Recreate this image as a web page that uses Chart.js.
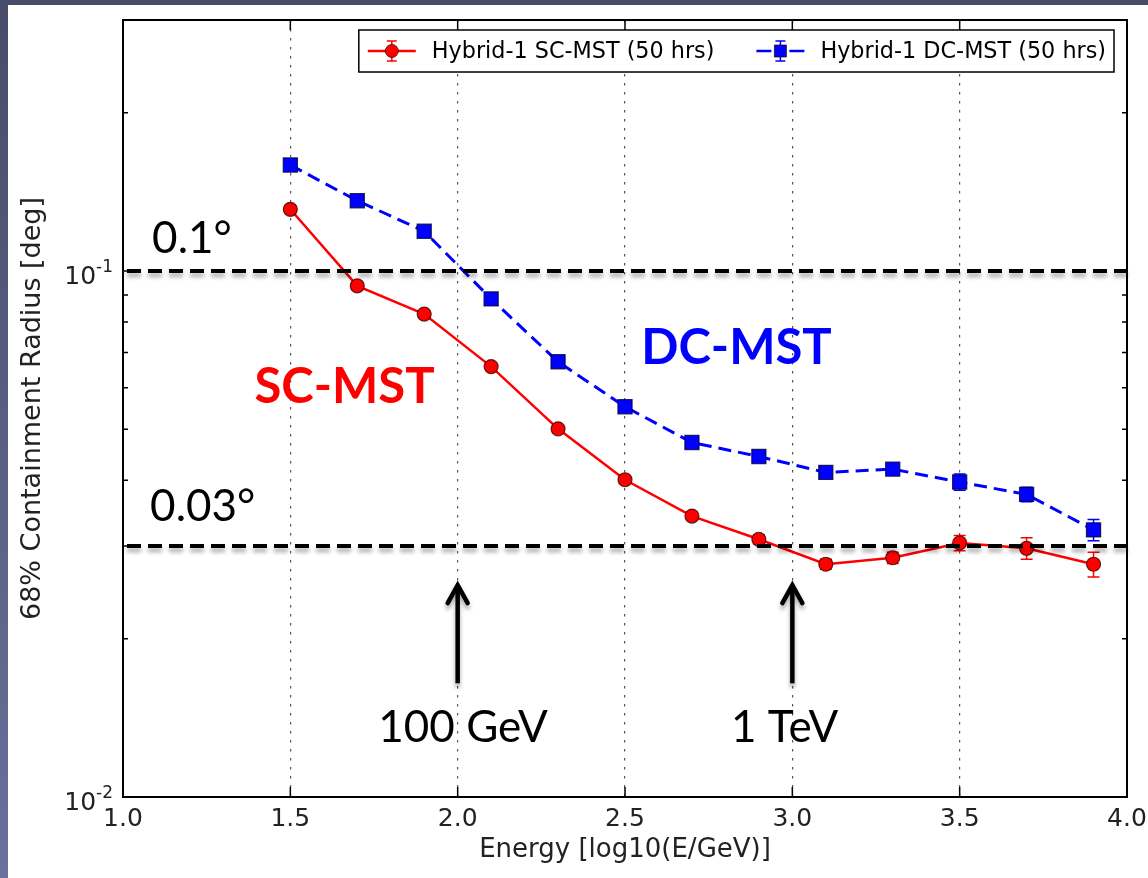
<!DOCTYPE html>
<html>
<head>
<meta charset="utf-8">
<title>68% Containment Radius</title>
<script src="https://cdn.jsdelivr.net/npm/chart.js@4.4.1/dist/chart.umd.min.js"></script>
<style>
    html, body { margin: 0; padding: 0; }
    body {
        width: 1148px; height: 878px; overflow: hidden; position: relative;
        background: linear-gradient(to bottom, #474c69 0%, #6b709c 100%);
    }
    #panel { position: absolute; left: 8px; top: 5px; right: 0; bottom: 0; background: #ffffff; }
    #wrap { position: absolute; left: 0; top: 0; width: 1148px; height: 878px; }
</style>
</head>
<body>
<div id="panel"></div>
<div id="wrap"><canvas id="psfChart" width="1148" height="878"></canvas></div>
<script>
// log10(E/GeV) bins
var energy = [1.5, 1.7, 1.9, 2.1, 2.3, 2.5, 2.7, 2.9, 3.1, 3.3, 3.5, 3.7, 3.9];

// 68% containment radius [deg] and errors
var radiusSC = [0.131, 0.0937, 0.0828, 0.0658, 0.0501, 0.0401, 0.0342, 0.0309, 0.0277, 0.0285, 0.0304, 0.0297, 0.0277];
var errorSC = [0.002, 0.0015, 0.0012, 0.001, 0.0008, 0.0006, 0.0006, 0.0006, 0.0006, 0.0007, 0.001, 0.0014, 0.0015];
var radiusDC = [0.159, 0.136, 0.119, 0.0885, 0.0672, 0.0552, 0.0472, 0.0444, 0.0414, 0.0420, 0.0397, 0.0376, 0.0322];
var errorDC = [0.0025, 0.002, 0.0018, 0.0014, 0.001, 0.0009, 0.0008, 0.0008, 0.0008, 0.0009, 0.0014, 0.0012, 0.0015];

var seriesNames = ['Hybrid-1 SC-MST (50 hrs)', 'Hybrid-1 DC-MST (50 hrs)'];

var ticksX = [1.0, 1.5, 2.0, 2.5, 3.0, 3.5, 4.0];
var ticksY = [0.01, 0.1];
var exponentsY = ['-2', '-1'];
var minorY = [0.02, 0.03, 0.04, 0.05, 0.06, 0.07, 0.08, 0.09, 0.2, 0.3];

// requirement lines and markers for 100 GeV / 1 TeV
var refLines = [0.1, 0.03];
var arrowsX = [2.0, 3.0];
var arrowFromY = 0.01645;
var arrowToY = 0.0255;

var notes = [
    { text: '0.1\u00B0', x: 1.087, y: 0.1082, align: 'left', color: '#000000', bold: false },
    { text: '0.03\u00B0', x: 1.081, y: 0.0335, align: 'left', color: '#000000', bold: false },
    { text: 'SC-MST', x: 1.662, y: 0.0562, align: 'center', color: '#ff0000', bold: true },
    { text: 'DC-MST', x: 2.833, y: 0.0666, align: 'center', color: '#0000ff', bold: true },
    { text: '100 GeV', x: 2.016, y: 0.01272, align: 'center', color: '#000000', bold: false },
    { text: '1 TeV', x: 2.977, y: 0.01272, align: 'center', color: '#000000', bold: false }
];

function toPoints(xs, ys) {
    return xs.map(function (x, i) { return { x: x, y: ys[i] }; });
}

var errorBarPlugin = {
    id: 'errorBars',
    beforeDatasetsDraw: function (chart) {
        var ctx = chart.ctx;
        var ys = chart.scales.y;
        chart.data.datasets.forEach(function (ds, i) {
            var meta = chart.getDatasetMeta(i);
            ctx.save();
            ctx.strokeStyle = ds.borderColor;
            ctx.lineWidth = 1.5;
            meta.data.forEach(function (pt, j) {
                var v = ds.data[j].y, e = ds.errors[j];
                var y1 = ys.getPixelForValue(v + e);
                var y2 = ys.getPixelForValue(v - e);
                ctx.beginPath();
                ctx.moveTo(pt.x, y1); ctx.lineTo(pt.x, y2);
                ctx.moveTo(pt.x - 6, y1); ctx.lineTo(pt.x + 6, y1);
                ctx.moveTo(pt.x - 6, y2); ctx.lineTo(pt.x + 6, y2);
                ctx.stroke();
            });
            ctx.restore();
        });
    }
};

function drawHandle(ctx, x, y, color, square, dashed) {
    ctx.save();
    ctx.strokeStyle = color;
    ctx.lineWidth = 2.5;
    ctx.beginPath();
    if (dashed) {
        ctx.moveTo(x, y); ctx.lineTo(x + 15, y);
        ctx.moveTo(x + 33, y); ctx.lineTo(x + 48, y);
    } else {
        ctx.moveTo(x, y); ctx.lineTo(x + 48, y);
    }
    ctx.stroke();
    var cx = x + 24;
    ctx.lineWidth = 1.5;
    ctx.beginPath();
    ctx.moveTo(cx, y - 10); ctx.lineTo(cx, y + 10);
    ctx.moveTo(cx - 5, y - 10); ctx.lineTo(cx + 5, y - 10);
    ctx.moveTo(cx - 5, y + 10); ctx.lineTo(cx + 5, y + 10);
    ctx.stroke();
    ctx.fillStyle = color;
    ctx.strokeStyle = 'rgba(40,0,0,0.7)';
    ctx.lineWidth = 1;
    ctx.beginPath();
    if (square) {
        ctx.rect(cx - 6, y - 6, 12, 12);
    } else {
        ctx.arc(cx, y, 6.5, 0, Math.PI * 2);
    }
    ctx.fill();
    ctx.stroke();
    ctx.restore();
}

var overlayPlugin = {
    id: 'overlay',
    afterDraw: function (chart) {
        var ctx = chart.ctx;
        var a = chart.chartArea;
        var xs = chart.scales.x, ys = chart.scales.y;

        // inward tick marks
        ctx.save();
        ctx.strokeStyle = '#000000';
        ctx.lineWidth = 1.5;
        ctx.beginPath();
        ticksX.forEach(function (t) {
            var px = xs.getPixelForValue(t);
            ctx.moveTo(px, a.bottom); ctx.lineTo(px, a.bottom - 10);
            ctx.moveTo(px, a.top); ctx.lineTo(px, a.top + 10);
        });
        ticksY.forEach(function (t) {
            var py = ys.getPixelForValue(t);
            ctx.moveTo(a.left, py); ctx.lineTo(a.left + 10, py);
            ctx.moveTo(a.right, py); ctx.lineTo(a.right - 10, py);
        });
        minorY.forEach(function (t) {
            var py = ys.getPixelForValue(t);
            ctx.moveTo(a.left, py); ctx.lineTo(a.left + 5, py);
            ctx.moveTo(a.right, py); ctx.lineTo(a.right - 5, py);
        });
        ctx.stroke();

        // axes frame
        ctx.lineWidth = 2;
        ctx.strokeRect(a.left, a.top, a.right - a.left, a.bottom - a.top);

        // tick labels
        ctx.fillStyle = '#222222';
        ctx.font = '25px "DejaVu Sans"';
        ctx.textAlign = 'center';
        ctx.textBaseline = 'alphabetic';
        ticksX.forEach(function (t) {
            ctx.fillText(t.toFixed(1), xs.getPixelForValue(t), a.bottom + 29);
        });
        ticksY.forEach(function (t, i) {
            var py = ys.getPixelForValue(t);
            var right = a.left - 10;
            ctx.font = '17px "DejaVu Sans"';
            ctx.textAlign = 'right';
            var supW = ctx.measureText(exponentsY[i]).width;
            ctx.fillText(exponentsY[i], right, py + 1);
            ctx.font = '25px "DejaVu Sans"';
            ctx.fillText('10', right - supW, py + 13);
        });
        ctx.restore();

        // legend box
        ctx.save();
        ctx.font = '22.3px "DejaVu Sans"';
        var w1 = ctx.measureText(seriesNames[0]).width;
        var w2 = ctx.measureText(seriesNames[1]).width;
        var boxW = 9 + 48 + 16 + w1 + 42 + 48 + 16 + w2 + 8;
        var boxR = a.right - 13;
        var boxL = boxR - boxW;
        var boxT = a.top + 10;
        var boxH = 42;
        ctx.fillStyle = '#ffffff';
        ctx.fillRect(boxL, boxT, boxW, boxH);
        ctx.strokeStyle = '#000000';
        ctx.lineWidth = 1.5;
        ctx.strokeRect(boxL, boxT, boxW, boxH);
        var cy = boxT + boxH / 2;
        var hx = boxL + 9;
        drawHandle(ctx, hx, cy, '#ff0000', false, false);
        ctx.fillStyle = '#000000';
        ctx.textBaseline = 'middle';
        ctx.fillText(seriesNames[0], hx + 64, cy + 1);
        hx = hx + 64 + w1 + 42;
        drawHandle(ctx, hx, cy, '#0000ff', true, true);
        ctx.fillStyle = '#000000';
        ctx.fillText(seriesNames[1], hx + 64, cy + 1);
        ctx.restore();

        // dashed requirement lines with a soft shadow
        ctx.save();
        ctx.shadowColor = 'rgba(0,0,0,0.35)';
        ctx.shadowBlur = 4;
        ctx.shadowOffsetY = 4;
        ctx.strokeStyle = '#000000';
        ctx.lineWidth = 4;
        ctx.setLineDash([14, 7]);
        refLines.forEach(function (v) {
            var py = ys.getPixelForValue(v);
            ctx.beginPath();
            ctx.moveTo(a.left + 4, py);
            ctx.lineTo(a.right, py);
            ctx.stroke();
        });
        ctx.setLineDash([]);

        // arrows
        ctx.lineWidth = 4.5;
        arrowsX.forEach(function (x) {
            var px = xs.getPixelForValue(x);
            var y0 = ys.getPixelForValue(arrowFromY);
            var y1 = ys.getPixelForValue(arrowToY);
            ctx.lineCap = 'butt';
            ctx.beginPath();
            ctx.moveTo(px, y0); ctx.lineTo(px, y1 + 2);
            ctx.stroke();
            ctx.lineCap = 'round';
            ctx.lineJoin = 'miter';
            ctx.beginPath();
            ctx.moveTo(px - 10, y1 + 20);
            ctx.lineTo(px, y1 + 2);
            ctx.lineTo(px + 10, y1 + 20);
            ctx.stroke();
        });
        ctx.restore();

        // text annotations
        ctx.save();
        ctx.textBaseline = 'alphabetic';
        notes.forEach(function (n) {
            ctx.font = n.bold ? 'bold 49px Lato' : '44px Lato';
            ctx.fillStyle = n.color;
            ctx.textAlign = n.align;
            ctx.fillText(n.text, xs.getPixelForValue(n.x), ys.getPixelForValue(n.y));
        });
        ctx.restore();
    }
};

var ctx = document.getElementById('psfChart').getContext('2d');
var psfChart = new Chart(ctx, {
    type: 'line',
    data: {
        datasets: [{
            label: seriesNames[0],
            data: toPoints(energy, radiusSC),
            errors: errorSC,
            borderColor: '#ff0000',
            borderWidth: 2.5,
            pointStyle: 'circle',
            pointRadius: 7,
            pointBackgroundColor: '#ff0000',
            pointBorderColor: 'rgba(60,0,0,0.8)',
            pointBorderWidth: 1.2,
            fill: false,
            tension: 0
        }, {
            label: seriesNames[1],
            data: toPoints(energy, radiusDC),
            errors: errorDC,
            borderColor: '#0000ff',
            borderWidth: 3,
            borderDash: [13, 7],
            pointStyle: 'rect',
            pointRadius: 10,
            pointBackgroundColor: '#0000ff',
            pointBorderColor: 'rgba(0,0,60,0.8)',
            pointBorderWidth: 1.2,
            fill: false,
            tension: 0
        }]
    },
    options: {
        responsive: false,
        animation: false,
        devicePixelRatio: 1,
        layout: { padding: { left: 0, top: 20, right: 21, bottom: 0 } },
        plugins: {
            legend: { display: false },
            tooltip: { enabled: false }
        },
        scales: {
            x: {
                type: 'linear',
                min: 1.0,
                max: 4.0,
                afterFit: function (scale) { scale.height = 81; },
                afterBuildTicks: function (scale) {
                    scale.ticks = ticksX.map(function (v) { return { value: v }; });
                },
                ticks: { display: false },
                grid: {
                    drawTicks: false,
                    color: '#555555',
                    lineWidth: 1.2
                },
                border: { display: false, dash: [2.5, 6.5] },
                title: {
                    display: true,
                    text: 'Energy [log10(E/GeV)]',
                    color: '#222222',
                    font: { family: 'DejaVu Sans', size: 26 },
                    padding: { top: 0, bottom: 12 }
                }
            },
            y: {
                type: 'logarithmic',
                min: 0.01,
                max: 0.3,
                afterFit: function (scale) { scale.width = 123; },
                afterBuildTicks: function (scale) {
                    scale.ticks = ticksY.map(function (v) { return { value: v }; });
                },
                ticks: { display: false },
                grid: { display: false, drawTicks: false },
                border: { display: false },
                title: {
                    display: true,
                    text: '68% Containment Radius [deg]',
                    color: '#222222',
                    font: { family: 'DejaVu Sans', size: 27 },
                    padding: { top: 17, bottom: 0 }
                }
            }
        }
    },
    plugins: [errorBarPlugin, overlayPlugin]
});
</script>
</body>
</html>
